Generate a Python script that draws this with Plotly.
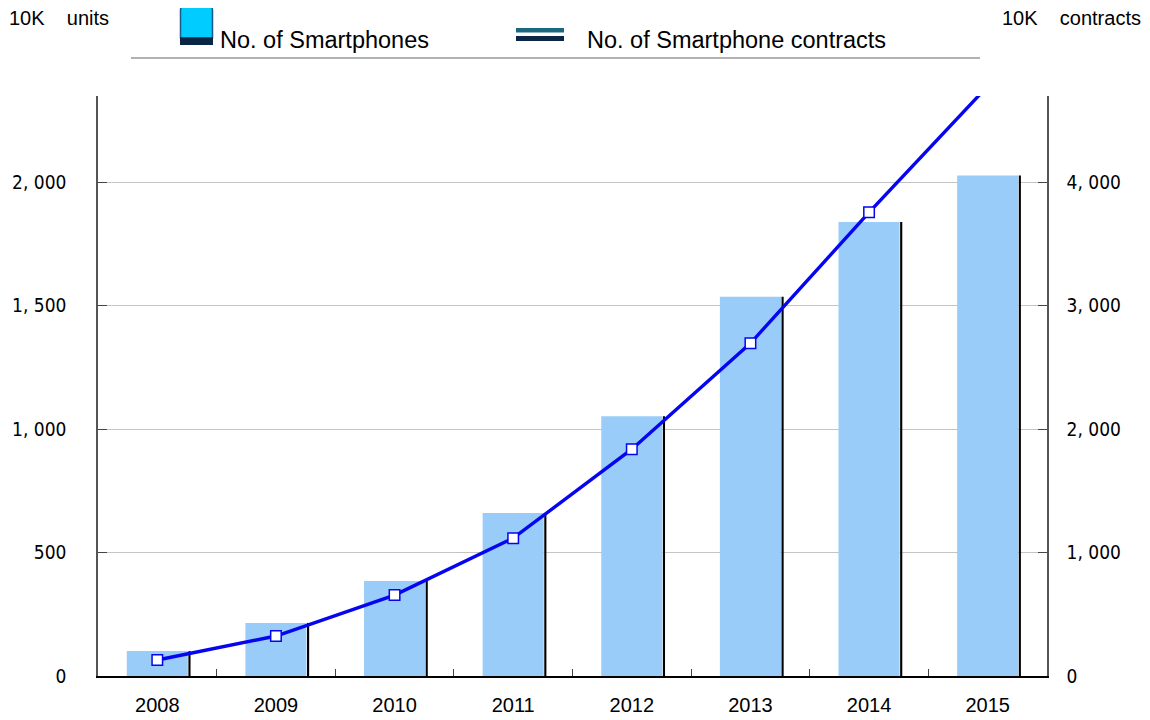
import plotly.graph_objects as go

years = ["2008", "2009", "2010", "2011", "2012", "2013", "2014", "2015"]
smartphones = [101, 215, 385, 660, 1052, 1537, 1839, 2028]
contracts = [130, 324, 656, 1117, 1838, 2696, 3757, 4780]

left_ticks = [0, 500, 1000, 1500, 2000]
left_labels = ["0", "500", "1, 000", "1, 500", "2, 000"]
right_ticks = [0, 1000, 2000, 3000, 4000]
right_labels = ["0", "1, 000", "2, 000", "3, 000", "4, 000"]

# page body adds an 8px offset; shrink figure to compensate
OFF = 8
W, H = 1150, 720
L, R, T, B = 98, 1047, 96, 676

TICKFONT = "DejaVu Sans Condensed"


def px(x):
    return (x - L) / (R - L)


def py(y):
    return (B - y) / (B - T)


fig = go.Figure()
fig.add_trace(go.Bar(x=years, y=smartphones, marker=dict(color="#000000", line=dict(width=0)),
                     width=0.018, offset=0.262, showlegend=False, hoverinfo="skip"))
fig.add_trace(go.Bar(x=years, y=smartphones, name="No. of Smartphones",
                     marker=dict(color="#99CCF8", line=dict(width=0)),
                     width=0.515, offset=-0.2575, showlegend=False))
fig.add_trace(go.Scatter(x=years, y=contracts, yaxis="y2", mode="lines+markers",
                         name="No. of Smartphone contracts",
                         line=dict(color="#0505F0", width=3.4),
                         marker=dict(symbol="square", size=10.5, color="white",
                                     line=dict(color="#0505F0", width=1.5)),
                         cliponaxis=True, showlegend=False))

fig.update_layout(
    width=W - OFF, height=H - OFF,
    margin=dict(l=L - OFF, r=W - R, t=T - OFF, b=H - B, autoexpand=False),
    paper_bgcolor="white", plot_bgcolor="white",
    barmode="overlay",
    font=dict(family="Liberation Sans, Arial", color="black"),
    xaxis=dict(type="category", showgrid=False, showline=True, linecolor="black", linewidth=1.5,
               ticks="inside", tickson="boundaries", ticklen=7, tickcolor="#444", automargin=False,
               tickfont=dict(size=20, family="Liberation Sans, Arial"), ticklabelstandoff=10),
    yaxis=dict(range=[0, 2350], tickvals=left_ticks, ticktext=left_labels,
               showgrid=True, gridcolor="#C4C4C4", gridwidth=1, zeroline=False,
               showline=True, linecolor="#555", linewidth=1.5, automargin=False,
               ticks="inside", ticklen=9, tickcolor="#444",
               tickfont=dict(size=19, family=TICKFONT), ticklabelstandoff=26),
    yaxis2=dict(range=[0, 4700], tickvals=right_ticks, ticktext=right_labels,
                overlaying="y", side="right", showgrid=False, zeroline=False,
                showline=True, linecolor="#555", linewidth=1.5, automargin=False,
                ticks="inside", ticklen=9, tickcolor="#444",
                tickfont=dict(size=19, family=TICKFONT), ticklabelstandoff=14),
)

shapes = []
# legend separator line
shapes.append(dict(type="line", xref="paper", yref="paper", x0=px(131), x1=px(980), y0=py(58), y1=py(58),
                   line=dict(color="#999", width=1.5)))
# bar legend icon (rounded top)
x0, x1, y0, y1, r = 180.5, 212.5, 5.5, 38, 5


def P(x, y):
    return f"{px(x)},{py(y)}"


path = (f"M {P(x0, y1)} L {P(x0, y0 + r)} Q {P(x0, y0)} {P(x0 + r, y0)} "
        f"L {P(x1 - r, y0)} Q {P(x1, y0)} {P(x1, y0 + r)} L {P(x1, y1)} Z")
shapes.append(dict(type="path", xref="paper", yref="paper", path=path,
                   fillcolor="#00CCFF", line=dict(color="#1A5A8A", width=1.5)))
shapes.append(dict(type="rect", xref="paper", yref="paper", x0=px(180), x1=px(213), y0=py(45), y1=py(37.5),
                   fillcolor="#0A2545", line=dict(width=0)))
# line legend icon
shapes.append(dict(type="rect", xref="paper", yref="paper", x0=px(516), x1=px(564), y0=py(32.5), y1=py(28),
                   fillcolor="#1A6880", line=dict(width=0)))
shapes.append(dict(type="rect", xref="paper", yref="paper", x0=px(516), x1=px(564), y0=py(41), y1=py(36),
                   fillcolor="#0A2545", line=dict(width=0)))

annotations = [
    dict(text="No. of Smartphones", x=px(218), y=py(40), xref="paper", yref="paper",
         xanchor="left", yanchor="middle", showarrow=False, font=dict(size=23.5)),
    dict(text="No. of Smartphone contracts", x=px(585), y=py(40), xref="paper", yref="paper",
         xanchor="left", yanchor="middle", showarrow=False, font=dict(size=23.5)),
    dict(text="10K\u00a0\u00a0\u00a0\u00a0units", x=px(7), y=py(18), xref="paper", yref="paper",
         xanchor="left", yanchor="middle", showarrow=False, font=dict(size=20)),
    dict(text="10K\u00a0\u00a0\u00a0\u00a0contracts", x=px(1143), y=py(18), xref="paper", yref="paper",
         xanchor="right", yanchor="middle", showarrow=False, font=dict(size=20)),
]
fig.update_layout(shapes=shapes, annotations=annotations)

fig.write_html("out.html")
